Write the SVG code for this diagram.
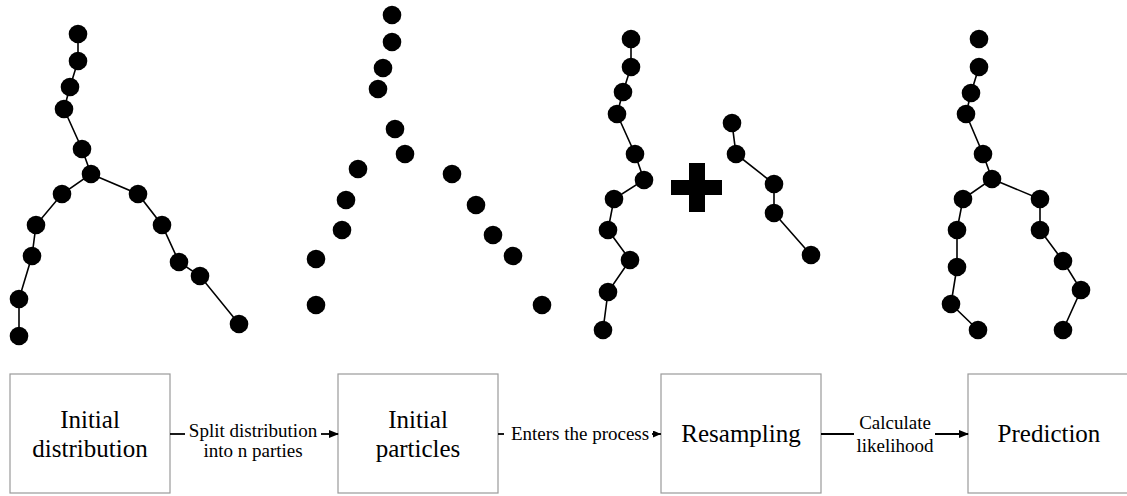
<svg xmlns="http://www.w3.org/2000/svg" width="1127" height="496" viewBox="0 0 1127 496">
<style>
.d{fill:#000}
.l{stroke:#000;stroke-width:1.6;fill:none}
.box{fill:#fff;stroke:#9a9a9a;stroke-width:1.2}
.big{font-size:25px;fill:#000;text-anchor:middle}
.sm{font-size:19px;fill:#000;text-anchor:middle}
.c{stroke:#000;stroke-width:1.8;fill:none}
</style>
<defs>
<marker id="ah" markerWidth="10" markerHeight="8" refX="9" refY="4" orient="auto" markerUnits="userSpaceOnUse">
<path d="M0,0 L10,4 L0,8 Z" fill="#000"/>
</marker>
<marker id="ahs" markerWidth="8" markerHeight="7" refX="8" refY="3.5" orient="auto" markerUnits="userSpaceOnUse">
<path d="M0,0 L8,3.5 L0,7 Z" fill="#000"/>
</marker>
</defs>
<rect width="1127" height="496" fill="#fff"/>

<g id="tree1">
<polyline class="l" points="78,34 78,61 70,87 64,109 82,149 91,174 62,194 36,225 32,256 19,299 19,336"/>
<polyline class="l" points="91,174 138,194 162,225 179,262 200,276 239,324"/>
<g class="d">
<circle cx="78" cy="34" r="9.3"/><circle cx="78" cy="61" r="9.3"/><circle cx="70" cy="87" r="9.3"/><circle cx="64" cy="109" r="9.3"/>
<circle cx="82" cy="149" r="9.3"/><circle cx="91" cy="174" r="9.3"/><circle cx="62" cy="194" r="9.3"/><circle cx="36" cy="225" r="9.3"/>
<circle cx="32" cy="256" r="9.3"/><circle cx="19" cy="299" r="9.3"/><circle cx="19" cy="336" r="9.3"/>
<circle cx="138" cy="194" r="9.3"/><circle cx="162" cy="225" r="9.3"/><circle cx="179" cy="262" r="9.3"/><circle cx="200" cy="276" r="9.3"/><circle cx="239" cy="324" r="9.3"/>
</g>
</g>

<g id="tree2">
<g class="d">
<circle cx="392" cy="15" r="9.3"/><circle cx="392" cy="42" r="9.3"/><circle cx="383" cy="68" r="9.3"/><circle cx="378" cy="89" r="9.3"/>
<circle cx="395" cy="129" r="9.3"/><circle cx="405" cy="154" r="9.3"/><circle cx="358" cy="169" r="9.3"/><circle cx="346" cy="200" r="9.3"/>
<circle cx="342" cy="230" r="9.3"/><circle cx="316" cy="259" r="9.3"/><circle cx="316" cy="305" r="9.3"/>
<circle cx="452" cy="174" r="9.3"/><circle cx="476" cy="205" r="9.3"/><circle cx="493" cy="235" r="9.3"/><circle cx="513" cy="256" r="9.3"/><circle cx="542" cy="305" r="9.3"/>
</g>
</g>

<g id="tree3">
<polyline class="l" points="631,39 631,67 623,92 617,114 635,154 644,180 614,199 608,230 630,260 608,292 603,330"/>
<polyline class="l" points="732,123 736,154 774,184 774,213 811,255"/>
<g class="d">
<circle cx="631" cy="39" r="9.3"/><circle cx="631" cy="67" r="9.3"/><circle cx="623" cy="92" r="9.3"/><circle cx="617" cy="114" r="9.3"/>
<circle cx="635" cy="154" r="9.3"/><circle cx="644" cy="180" r="9.3"/><circle cx="614" cy="199" r="9.3"/><circle cx="608" cy="230" r="9.3"/>
<circle cx="630" cy="260" r="9.3"/><circle cx="608" cy="292" r="9.3"/><circle cx="603" cy="330" r="9.3"/>
<circle cx="732" cy="123" r="9.3"/><circle cx="736" cy="154" r="9.3"/><circle cx="774" cy="184" r="9.3"/><circle cx="774" cy="213" r="9.3"/><circle cx="811" cy="255" r="9.3"/>
</g>
<rect class="d" x="671" y="180" width="51" height="15"/>
<rect class="d" x="689" y="163" width="16" height="49"/>
</g>

<g id="tree4">
<polyline class="l" points="979,67 971,93 966,114 983,154 992,179 963,199 957,230 957,267 951,304 978,330"/>
<polyline class="l" points="992,179 1040,199 1040,230 1063,261 1081,290 1063,330"/>
<g class="d">
<circle cx="979" cy="39" r="9.3"/><circle cx="979" cy="67" r="9.3"/><circle cx="971" cy="93" r="9.3"/><circle cx="966" cy="114" r="9.3"/>
<circle cx="983" cy="154" r="9.3"/><circle cx="992" cy="179" r="9.3"/><circle cx="963" cy="199" r="9.3"/><circle cx="957" cy="230" r="9.3"/>
<circle cx="957" cy="267" r="9.3"/><circle cx="951" cy="304" r="9.3"/><circle cx="978" cy="330" r="9.3"/>
<circle cx="1040" cy="199" r="9.3"/><circle cx="1040" cy="230" r="9.3"/><circle cx="1063" cy="261" r="9.3"/><circle cx="1081" cy="290" r="9.3"/><circle cx="1063" cy="330" r="9.3"/>
</g>
</g>

<g font-family="Liberation Serif, DejaVu Serif, serif">
<g id="node-initial-distribution">
<rect class="box" x="10" y="374" width="160" height="119"/>
<text class="big" x="90" y="428">Initial</text>
<text class="big" x="90" y="457">distribution</text>
</g>
<g id="node-initial-particles">
<rect class="box" x="338" y="374" width="160" height="119"/>
<text class="big" x="418" y="428">Initial</text>
<text class="big" x="418" y="457">particles</text>
</g>
<g id="node-resampling">
<rect class="box" x="661" y="374" width="160" height="119"/>
<text class="big" x="741" y="442">Resampling</text>
</g>
<g id="node-prediction">
<rect class="box" x="968" y="374" width="162" height="119"/>
<text class="big" x="1049" y="442">Prediction</text>
</g>

<g id="connectors">
<line class="c" x1="170" y1="434" x2="185" y2="434"/>
<line class="c" x1="321" y1="434" x2="338" y2="434" marker-end="url(#ah)"/>
<text class="sm" x="253" y="437">Split distribution</text>
<text class="sm" x="253" y="457">into n parties</text>

<line class="c" x1="498" y1="434" x2="504" y2="434"/>
<line class="c" x1="652" y1="434" x2="661" y2="434" marker-end="url(#ahs)"/>
<text class="sm" x="580" y="440">Enters the process</text>

<line class="c" x1="821" y1="434" x2="854" y2="434"/>
<line class="c" x1="935" y1="434" x2="968" y2="434" marker-end="url(#ah)"/>
<text class="sm" x="895" y="429">Calculate</text>
<text class="sm" x="895" y="452">likelihood</text>
</g>
</g>
</svg>
